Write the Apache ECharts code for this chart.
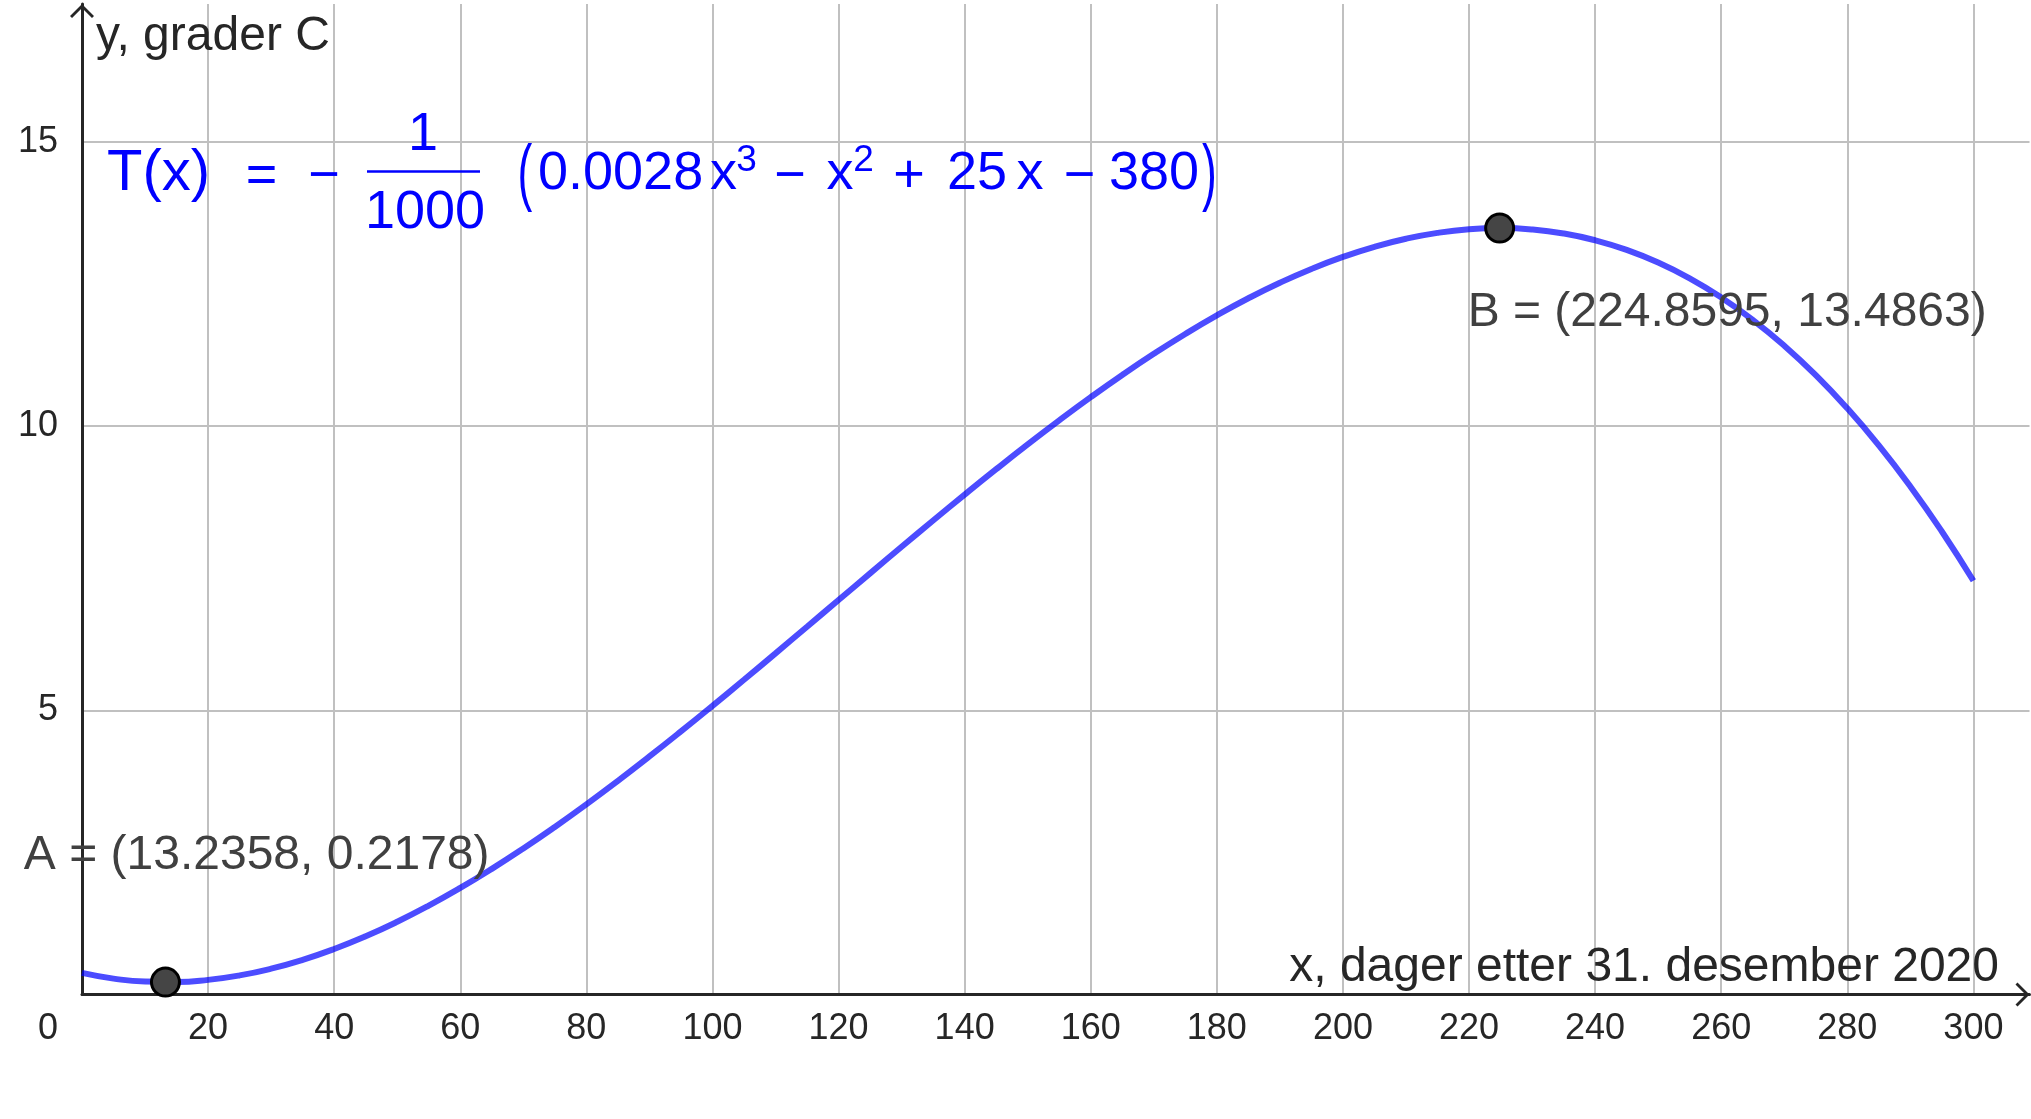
<!DOCTYPE html>
<html><head><meta charset="utf-8">
<script src="https://cdn.jsdelivr.net/npm/echarts@6/dist/echarts.min.js"></script>
<style>html,body{margin:0;padding:0;background:#fff}#c{width:2031px;height:1119px}</style>
</head><body><div id="c"></div>
<script>
// x = days after 31 December 2020, T = temperature (°C)
const xDays = [0, 5, 10, 15, 20, 25, 30, 35, 40, 45, 50, 55, 60, 65, 70, 75, 80, 85, 90, 95,
  100, 105, 110, 115, 120, 125, 130, 135, 140, 145, 150, 155, 160, 165, 170, 175, 180, 185,
  190, 195, 200, 205, 210, 215, 220, 225, 230, 235, 240, 245, 250, 255, 260, 265, 270, 275,
  280, 285, 290, 295, 300];
const tempC = [0.38, 0.27965, 0.2272, 0.22055, 0.2576, 0.33625, 0.4544, 0.60995, 0.8008,
  1.02485, 1.28, 1.56415, 1.8752, 2.21105, 2.5696, 2.94875, 3.3464, 3.76045, 4.1888, 4.62935,
  5.08, 5.53865, 6.0032, 6.47155, 6.9416, 7.41125, 7.8784, 8.34095, 8.7968, 9.24385, 9.68,
  10.10315, 10.5112, 10.90205, 11.2736, 11.62375, 11.9504, 12.25145, 12.5248, 12.76835, 12.98,
  13.15765, 13.2992, 13.40255, 13.4656, 13.48625, 13.4624, 13.39195, 13.2728, 13.10285, 12.88,
  12.60215, 12.2672, 11.87305, 11.4176, 10.89875, 10.3144, 9.66245, 8.9408, 8.14735, 7.28];
const pointNames = ['A', 'B'];
const pointA = [13.2358, 0.2178];
const pointB = [224.8595, 13.4863];
const xTitle = 'x, dager etter 31. desember 2020';
const yTitle = 'y, grader C';

const FONT = '"Liberation Sans", Arial, Helvetica, sans-serif';
const AX = '#262626';
const BLUE = '#0000ff';
const chevron = 'path://M12,0 L24,12 L22,14 L12,4 L2,14 L0,12 Z';

function t(text, x, y, size, align, color, sx) {
  return {type: 'text', x: x, y: y, z: 100, silent: true, scaleX: sx || 1,
    style: {text: text, fill: color || BLUE, font: size + 'px ' + FONT,
      align: align || 'center', verticalAlign: 'middle'}};
}

const chart = echarts.init(document.getElementById('c'), null, {renderer: 'canvas'});
chart.setOption({
  animation: false,
  backgroundColor: '#ffffff',
  grid: {left: 82, right: 1.5, top: 4, bottom: 124.5, containLabel: false, outerBoundsMode: 'none'},
  xAxis: {
    type: 'value', min: 0, max: 308.9, interval: 20,
    axisLine: {show: true, onZero: true, lineStyle: {color: AX, width: 3},
      symbol: ['none', chevron], symbolSize: [24, 14], symbolOffset: [0, -7]},
    axisTick: {show: false},
    axisLabel: {show: true, margin: 17, fontSize: 36, color: AX, fontFamily: FONT,
      showMinLabel: true, showMaxLabel: false,
      formatter: function (v) { return v === 0 ? '{z|0}' : String(v); },
      rich: {z: {padding: [0, 68, 0, 0], fontSize: 36, color: AX, fontFamily: FONT}}},
    splitLine: {show: true, showMinLine: false, showMaxLine: false,
      lineStyle: {color: '#c0c0c0', width: 2}}
  },
  yAxis: {
    type: 'value', min: 0, max: 17.43, interval: 5,
    axisLine: {show: true, onZero: true, lineStyle: {color: AX, width: 3},
      symbol: ['none', chevron], symbolSize: [24, 14], symbolOffset: [0, -7]},
    axisTick: {show: false},
    axisLabel: {show: true, margin: 24, fontSize: 36, color: AX, fontFamily: FONT,
      showMinLabel: false, showMaxLabel: false},
    splitLine: {show: true, showMinLine: false, showMaxLine: false,
      lineStyle: {color: '#c0c0c0', width: 2}}
  },
  series: [
    {
      type: 'line', silent: true, z: 3,
      data: xDays.map(function (x, i) { return [x, tempC[i]]; }),
      smooth: true, showSymbol: false, symbol: 'none',
      lineStyle: {color: 'rgba(0,0,255,0.7)', width: 6}
    },
    {
      type: 'scatter', silent: true, z: 5,
      symbolSize: 28,
      itemStyle: {color: '#454545', borderColor: '#000000', borderWidth: 3, opacity: 1},
      label: {
        show: true, position: 'inside', align: 'left', verticalAlign: 'middle',
        color: '#404040', fontSize: 48, fontFamily: FONT,
        formatter: function (p) {
          return pointNames[p.dataIndex] + ' = (' + p.value[0].toFixed(4) + ', ' + p.value[1].toFixed(4) + ')';
        }
      },
      data: [
        {value: pointA, label: {offset: [-141.6, -126]}},
        {value: pointB, label: {offset: [-32, 85]}}
      ]
    }
  ],
  graphic: [
    t(yTitle, 96, 37, 48, 'left', AX),
    t(xTitle, 1999, 968, 48, 'right', AX),
    t('T(x)', 107, 174, 58, 'left'),
    t('=', 261.5, 177, 54),
    t('\u2212', 324, 177, 54),
    {type: 'line', z: 100, silent: true, shape: {x1: 367, y1: 171.5, x2: 480, y2: 171.5},
      style: {stroke: BLUE, lineWidth: 2.6}},
    t('1', 423, 135, 54),
    t('1000', 425, 213, 54),
    t('(', 525, 177, 74, 'center', BLUE, 0.6),
    t('0.0028', 538, 174, 54, 'left'),
    t('x', 723.5, 174, 54),
    t('3', 746.5, 161, 37),
    t('\u2212', 790, 177, 54),
    t('x', 840, 174, 54),
    t('2', 863.5, 161, 37),
    t('+', 909, 177, 54),
    t('25', 947, 174, 54, 'left'),
    t('x', 1030, 174, 54),
    t('\u2212', 1079.5, 177, 54),
    t('380', 1154, 174, 54),
    t(')', 1209.5, 177, 74, 'center', BLUE, 0.6)
  ]
});
</script>
</body></html>
